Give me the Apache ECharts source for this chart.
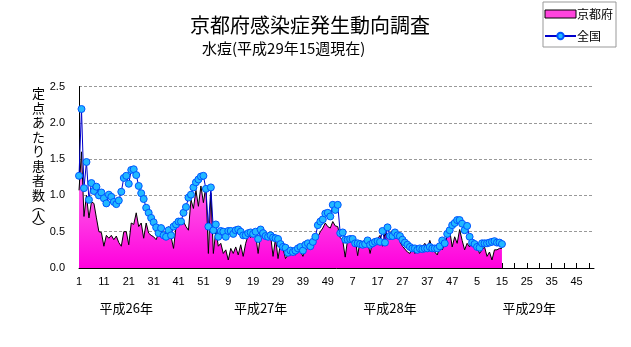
<!DOCTYPE html>
<html><head><meta charset="utf-8">
<script src="https://cdn.jsdelivr.net/npm/echarts@6/dist/echarts.min.js"></script>
<style>html,body{margin:0;padding:0;background:#fff}#c{width:631px;height:347px}</style>
</head><body><div id="c"></div>
<script>
// --- data ---
const years = ['平成26年', '平成27年', '平成28年', '平成29年'];
const weeksPerYear = [52, 52, 52, 52];
const yearLabelIndex = [19, 73, 125, 181];
const yTicks = [0, 0.5, 1.0, 1.5, 2.0, 2.5];
const yName = '定\n点\nあ\nた\nり\n患\n者\n数\n{p|︵}\n人\n{p|︶}';

const kyoto = [
1.07,1.6,0.71,1.0,0.69,0.91,0.89,0.69,0.5,0.49,
0.3,0.45,0.41,0.45,0.39,0.44,0.35,0.3,0.5,0.5,
0.32,0.62,0.6,0.76,0.57,0.62,0.41,0.62,0.48,0.45,
0.43,0.39,0.48,0.43,0.5,0.45,0.57,0.43,0.27,0.57,
0.62,0.66,0.64,0.57,0.52,0.94,0.82,1.07,0.85,1.13,
0.9,1.13,0.2,1.03,0.2,0.52,0.3,0.34,0.2,0.25,
0.11,0.27,0.2,0.29,0.18,0.32,0.16,0.34,0.45,0.42,
0.48,0.45,0.2,0.48,0.45,0.41,0.45,0.45,0.16,0.41,
0.13,0.34,0.27,0.13,0.18,0.25,0.21,0.18,0.25,0.23,
0.16,0.25,0.27,0.29,0.32,0.39,0.43,0.5,0.55,0.62,
0.57,0.55,0.64,0.58,0.57,0.42,0.38,0.15,0.4,0.42,
0.38,0.4,0.17,0.38,0.35,0.4,0.36,0.2,0.36,0.38,
0.4,0.45,0.3,0.48,0.4,0.47,0.52,0.4,0.47,0.36,
0.3,0.26,0.22,0.2,0.28,0.2,0.27,0.22,0.29,0.34,
0.27,0.38,0.27,0.22,0.18,0.29,0.25,0.34,0.43,0.52,
0.29,0.43,0.34,0.53,0.38,0.25,0.34,0.29,0.38,0.27,
0.29,0.2,0.25,0.29,0.16,0.22,0.11,0.25,0.25,0.27,
0.27
];
const zenkoku = [
1.27,2.19,1.10,1.46,0.94,1.17,1.06,1.12,1.00,1.04,
0.96,0.89,1.01,0.98,0.91,0.88,0.93,1.05,1.24,1.27,
1.16,1.35,1.36,1.28,1.13,1.03,0.95,0.83,0.76,0.69,
0.63,0.56,0.48,0.55,0.45,0.43,0.52,0.45,0.57,0.60,
0.64,0.64,0.76,0.84,0.97,1.01,1.11,1.18,1.22,1.26,
1.27,1.09,0.57,1.11,0.52,0.60,0.43,0.51,0.50,0.43,
0.51,0.51,0.47,0.52,0.53,0.50,0.45,0.45,0.48,0.49,
0.47,0.50,0.40,0.53,0.48,0.44,0.43,0.45,0.42,0.41,
0.40,0.33,0.29,0.28,0.21,0.24,0.22,0.24,0.27,0.29,
0.24,0.32,0.34,0.30,0.36,0.43,0.59,0.64,0.67,0.75,
0.76,0.71,0.87,0.80,0.87,0.48,0.49,0.39,0.39,0.40,
0.40,0.34,0.34,0.33,0.32,0.33,0.38,0.32,0.34,0.36,
0.37,0.36,0.51,0.35,0.56,0.44,0.44,0.49,0.45,0.44,
0.39,0.35,0.32,0.29,0.27,0.27,0.25,0.27,0.26,0.27,
0.27,0.29,0.27,0.27,0.27,0.30,0.38,0.34,0.47,0.52,
0.59,0.62,0.66,0.66,0.61,0.52,0.58,0.43,0.35,0.33,
0.29,0.28,0.34,0.34,0.34,0.35,0.36,0.37,0.35,0.35,
0.33
];

// categories: week numbers per year
const categories = [];
weeksPerYear.forEach(n => { for (let w = 1; w <= n; w++) categories.push(String(w)); });

const chart = echarts.init(document.getElementById('c'));
chart.setOption({
  animation: false,
  backgroundColor: '#fff',
  textStyle: { fontFamily: '"Noto Sans CJK JP", "Liberation Sans", sans-serif' },
  title: [
    { text: '京都府感染症発生動向調査', left: 190, top: 15, padding: 0,
      textStyle: { fontSize: 20, fontWeight: 'normal', color: '#000', fontFamily: '"Noto Sans CJK JP"' } },
    { text: '水痘(平成29年15週現在)', left: 202, top: 41, padding: 0,
      textStyle: { fontSize: 15, fontWeight: 'normal', color: '#000', fontFamily: '"Noto Sans CJK JP"' } }
  ],
  graphic: [{
    type: 'text', left: 32, top: 86,
    style: {
      text: yName, fontSize: 13, lineHeight: 14.5, fill: '#000', fontFamily: '"Noto Sans CJK JP"',
      rich: { p: { fontSize: 13, lineHeight: 7, fontFamily: '"Noto Sans CJK JP"' } }
    }
  }],
  legend: {
    orient: 'vertical', left: 543, top: 2, padding: [6, 3, 5, 1],
    borderColor: '#999', borderWidth: 1, backgroundColor: '#fff',
    itemWidth: 31, itemHeight: 8, itemGap: 10,
    textStyle: { fontSize: 12, color: '#000', fontFamily: '"Noto Sans CJK JP"', padding: [0, 0, 0, -4] },
    data: [
      { name: '京都府', icon: 'rect', itemStyle: { color: '#ff44dd', borderColor: '#000', borderWidth: 1 } },
      { name: '全国' }
    ]
  },
  grid: { left: 79, right: 37, top: 86.5, bottom: 79, containLabel: false },
  xAxis: [
    {
      type: 'category', data: categories, boundaryGap: false,
      axisLine: { lineStyle: { color: '#000', width: 1 } },
      axisTick: { show: true, inside: true, length: 5, interval: 4, lineStyle: { color: '#000' } },
      axisLabel: { interval: 9, margin: 8, fontSize: 11, color: '#000', fontFamily: '"Liberation Sans"' },
      splitLine: { show: false }
    },
    {
      type: 'category', data: categories, boundaryGap: false, position: 'bottom', offset: 26,
      axisLine: { show: false }, axisTick: { show: false },
      axisLabel: {
        interval: (idx) => yearLabelIndex.indexOf(idx) >= 0,
        formatter: (v, idx) => years[yearLabelIndex.indexOf(idx)] || '',
        fontSize: 13, color: '#000', fontFamily: '"Noto Sans CJK JP"', margin: 8
      }
    }
  ],
  yAxis: {
    type: 'value', min: yTicks[0], max: yTicks[yTicks.length - 1], interval: 0.5,
    axisLine: { show: true, lineStyle: { color: '#000', width: 1 } },
    axisTick: { show: false },
    axisLabel: { formatter: v => v.toFixed(1), fontSize: 11, color: '#000', margin: 14, fontFamily: '"Liberation Sans"' },
    splitLine: { show: true, lineStyle: { color: '#999', type: [3, 2], width: 1 } }
  },
  series: [
    {
      name: '京都府', type: 'line', data: kyoto, symbol: 'none', smooth: false,
      lineStyle: { color: '#000', width: 1 },
      itemStyle: { color: '#ff44dd' },
      areaStyle: {
        opacity: 1,
        color: new echarts.graphic.LinearGradient(0, 0, 0, 1, [
          { offset: 0, color: '#ff88ee' }, { offset: 1, color: '#ff00dd' }
        ])
      },
      z: 2
    },
    {
      name: '全国', type: 'line', data: zenkoku, symbol: 'circle', symbolSize: 7, showAllSymbol: true,
      lineStyle: { color: '#0000cc', width: 1 },
      itemStyle: { color: '#22b8ff', borderColor: '#0055ff', borderWidth: 1 },
      z: 3
    }
  ]
});
</script></body></html>
